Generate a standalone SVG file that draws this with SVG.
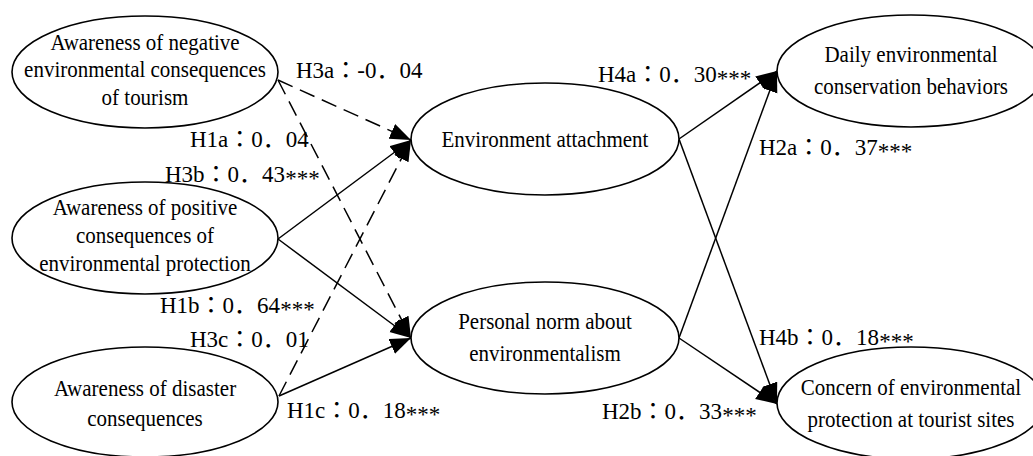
<svg xmlns="http://www.w3.org/2000/svg" width="1033" height="456" viewBox="0 0 1033 456">
<style>
.bg{fill:#fff}
.node ellipse{fill:#fff;stroke:#000;stroke-width:1.6}
.node text{font-family:"Liberation Serif","Times New Roman",serif;font-size:21px;fill:#000;text-anchor:middle}
.e{fill:none;stroke:#000;stroke-width:1.5;marker-end:url(#ah)}
.d{stroke-dasharray:16 8}
.lab text{font-family:"Liberation Serif","Noto Sans CJK JP",serif;font-size:23px;fill:#000}
</style>
<defs>
<marker id="ah" markerUnits="userSpaceOnUse" markerWidth="24" markerHeight="18" refX="21" refY="8" orient="auto">
<path d="M0,0 L21,8 L0,16 z" fill="#000"/>
</marker>
</defs>
<rect class="bg" x="0" y="0" width="1033" height="456"/>
<g id="connectors">
<line class="e d" x1="278" y1="80" x2="411" y2="140"/>
<line class="e d" x1="278" y1="80" x2="411" y2="338"/>
<line class="e" x1="278" y1="239" x2="411" y2="140"/>
<line class="e" x1="278" y1="239" x2="411" y2="338"/>
<line class="e d" x1="279" y1="396" x2="411" y2="140"/>
<line class="e" x1="279" y1="396" x2="411" y2="338"/>
<line class="e" x1="679" y1="139" x2="777" y2="71"/>
<line class="e" x1="679" y1="139" x2="777" y2="404"/>
<line class="e" x1="679" y1="338" x2="777" y2="71"/>
<line class="e" x1="679" y1="338" x2="777" y2="404"/>
</g>
<g id="n-negative" class="node">
<ellipse cx="145" cy="72" rx="133" ry="56"/>
<text transform="translate(145,50) scale(1,1.12)">Awareness of negative</text>
<text transform="translate(145,77) scale(1,1.12)">environmental consequences</text>
<text transform="translate(145,105) scale(1,1.12)">of tourism</text>
</g>
<g id="n-positive" class="node">
<ellipse cx="145" cy="238" rx="133" ry="56"/>
<text transform="translate(145,215) scale(1,1.12)">Awareness of positive</text>
<text transform="translate(145,243) scale(1,1.12)">consequences of</text>
<text transform="translate(145,271) scale(1,1.12)">environmental protection</text>
</g>
<g id="n-disaster" class="node">
<ellipse cx="145" cy="402" rx="133" ry="55"/>
<text transform="translate(145,396) scale(1,1.12)">Awareness of disaster</text>
<text transform="translate(145,426) scale(1,1.12)">consequences</text>
</g>
<g id="n-attachment" class="node">
<ellipse cx="545" cy="139" rx="134" ry="56"/>
<text transform="translate(545,147) scale(1,1.12)">Environment attachment</text>
</g>
<g id="n-norm" class="node">
<ellipse cx="545" cy="338" rx="134" ry="56"/>
<text transform="translate(545,329) scale(1,1.12)">Personal norm about</text>
<text transform="translate(545,361) scale(1,1.12)">environmentalism</text>
</g>
<g id="n-daily" class="node">
<ellipse cx="911" cy="71" rx="134" ry="56"/>
<text transform="translate(911,62) scale(1,1.12)">Daily environmental</text>
<text transform="translate(911,94) scale(1,1.12)">conservation behaviors</text>
</g>
<g id="n-concern" class="node">
<ellipse cx="911" cy="403" rx="134" ry="56"/>
<text transform="translate(911,395) scale(1,1.12)">Concern of environmental</text>
<text transform="translate(911,427) scale(1,1.12)">protection at tourist sites</text>
</g>
<g id="labels" class="lab">
<text x="296" y="78">H3a：-0．04</text>
<text x="190" y="147">H1a：0．04</text>
<text x="165" y="182">H3b：0．43<tspan dy="4">***</tspan></text>
<text x="160" y="313">H1b：0．64<tspan dy="4">***</tspan></text>
<text x="190" y="347">H3c：0．01</text>
<text x="287" y="418">H1c：0．18<tspan dy="4">***</tspan></text>
<text x="598" y="82">H4a：0．30<tspan dy="4">***</tspan></text>
<text x="759" y="155">H2a：0．37<tspan dy="4">***</tspan></text>
<text x="759" y="345">H4b：0．18<tspan dy="4">***</tspan></text>
<text x="602" y="419">H2b：0．33<tspan dy="4">***</tspan></text>
</g>
</svg>
